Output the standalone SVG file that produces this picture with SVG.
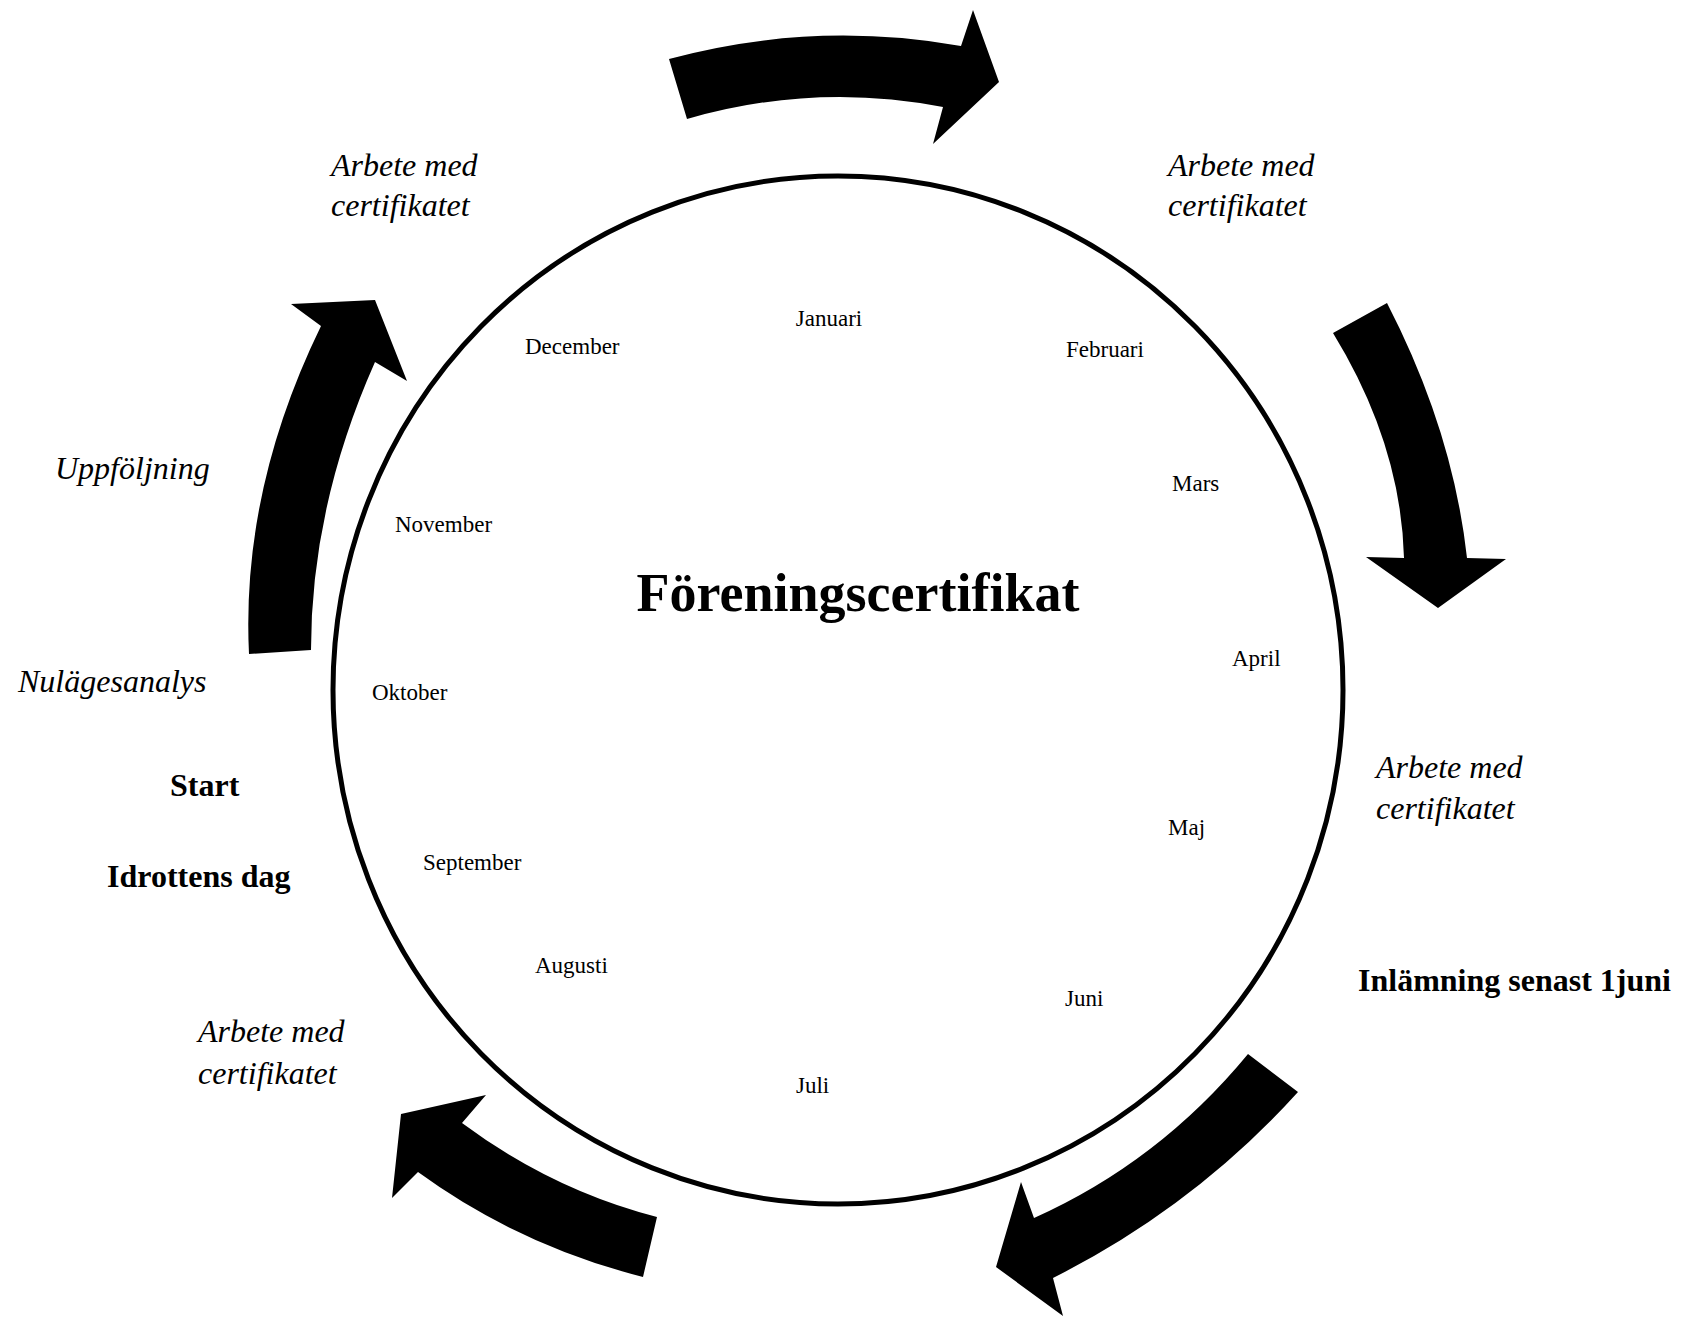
<svg xmlns="http://www.w3.org/2000/svg" width="1686" height="1319" viewBox="0 0 1686 1319">
<style>
  text { font-family: "Liberation Serif", "Times New Roman", serif; fill: #000; }
  .month { font-size: 23px; }
  .it { font-size: 32px; font-style: italic; }
  .bold { font-size: 32px; font-weight: bold; }
  .title { font-size: 54px; font-weight: bold; }
  .arrow { fill: #000; stroke: none; }
</style>
<rect x="0" y="0" width="1686" height="1319" fill="#fff"/>
<g id="wheel">
  <ellipse cx="838" cy="690" rx="505" ry="514" fill="none" stroke="#000" stroke-width="5"/>
  <text class="title" x="858" y="611" text-anchor="middle">Föreningscertifikat</text>
</g>
<g id="months">
  <g id="m-jan"><text class="month" x="829" y="326" text-anchor="middle">Januari</text></g>
  <g id="m-feb"><text class="month" x="1066" y="357">Februari</text></g>
  <g id="m-mar"><text class="month" x="1172" y="491">Mars</text></g>
  <g id="m-apr"><text class="month" x="1232" y="666">April</text></g>
  <g id="m-maj"><text class="month" x="1168" y="835">Maj</text></g>
  <g id="m-jun"><text class="month" x="1065" y="1006">Juni</text></g>
  <g id="m-jul"><text class="month" x="796" y="1093">Juli</text></g>
  <g id="m-aug"><text class="month" x="535" y="973">Augusti</text></g>
  <g id="m-sep"><text class="month" x="423" y="870">September</text></g>
  <g id="m-okt"><text class="month" x="372" y="700">Oktober</text></g>
  <g id="m-nov"><text class="month" x="395" y="532">November</text></g>
  <g id="m-dec"><text class="month" x="525" y="354">December</text></g>
</g>
<g id="labels">
  <g id="l-arbete-tl"><text class="it" x="331" y="176">Arbete med</text><text class="it" x="331" y="216">certifikatet</text></g>
  <g id="l-arbete-tr"><text class="it" x="1168" y="176">Arbete med</text><text class="it" x="1168" y="216">certifikatet</text></g>
  <g id="l-arbete-r"><text class="it" x="1376" y="778">Arbete med</text><text class="it" x="1376" y="819">certifikatet</text></g>
  <g id="l-arbete-bl"><text class="it" x="198" y="1042">Arbete med</text><text class="it" x="198" y="1084">certifikatet</text></g>
  <g id="l-uppfoljning"><text class="it" x="55" y="479">Uppföljning</text></g>
  <g id="l-nulage"><text class="it" x="18" y="692">Nulägesanalys</text></g>
  <g id="l-start"><text class="bold" x="170" y="796">Start</text></g>
  <g id="l-idrott"><text class="bold" x="107" y="887">Idrottens dag</text></g>
  <g id="l-inlamning"><text class="bold" x="1358" y="991">Inlämning senast 1juni</text></g>
</g>
<g id="connectors">
  <path class="arrow" d="M669,59 Q813,20 961,46 L973,10 L999,82 L933,144 L943,107 Q815,82 687,119 Z"/>
  <path class="arrow" d="M1387,303 Q1453,431 1467,558 L1506,559 L1438,608 L1366,557 L1404,558 Q1401,444 1333,333 Z"/>
  <path class="arrow" d="M1298,1092 Q1194,1207 1053,1278 L1063,1316 L996,1267 L1021,1182 L1034,1218 Q1159,1162 1248,1054 Z"/>
  <path class="arrow" d="M657,1217 Q552,1190 462,1123 L486,1095 L401,1114 L392,1198 L418,1172 Q518,1245 643,1277 Z"/>
  <path class="arrow" d="M249,654 Q241,490 321,326 L291,304 L375,300 L407,381 L375,362 Q311,506 311,650 Z"/>
</g>
</svg>
